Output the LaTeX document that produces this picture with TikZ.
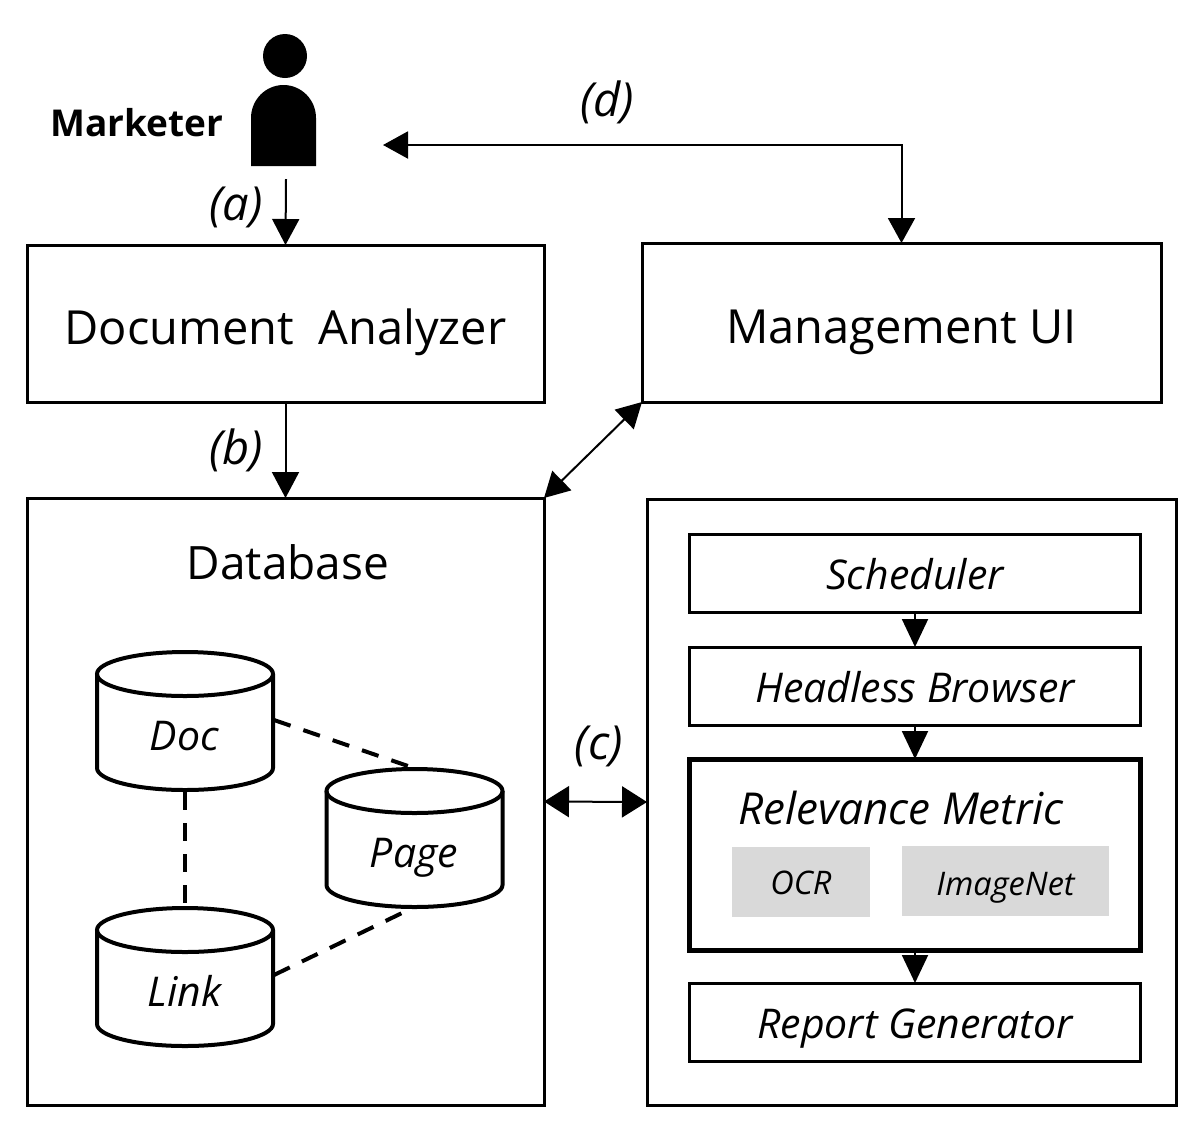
\documentclass[tikz,border=0pt]{standalone}
\usepackage{fontspec}
\setmainfont{Open Sans}
\usetikzlibrary{arrows.meta}

\begin{document}
\begin{tikzpicture}
[
    x = 1pt, y = -1pt,
    tip/.style = {-{Triangle[length=26pt,width=27pt]}, line width=2pt},
    steptip/.style = {-{Triangle[length=28pt,width=26pt]}, line width=2pt},
    bothtip/.style = {{Triangle[length=25pt,width=27pt]}-{Triangle[length=25pt,width=27pt]}, line width=2pt},
    widetip/.style = {{Triangle[length=25pt,width=31pt]}-{Triangle[length=25pt,width=31pt]}, line width=2pt},
    box/.style = {draw, line width=3pt, inner sep=0pt, outer sep=0pt, text height=41pt, text depth=0pt, font=\fontsize{47}{50}\selectfont},
    inbox/.style = {box, minimum width=451pt, minimum height=78pt, text height=33pt, font=\fontsize{41}{46}\selectfont\itshape},
    greybox/.style = {fill=black!15, inner sep=0pt, minimum height=70pt, text height=24pt, text depth=0pt, font=\fontsize{32.5}{36}\selectfont\itshape},
    store/.style = {draw, line width=4pt},
    storetext/.style = {font=\fontsize{41}{46}\selectfont\itshape, text height=30pt, text depth=0pt},
    tag/.style = {font=\fontsize{47}{52}\selectfont\itshape},
    link/.style = {line width=4pt, dash pattern=on 17.5pt off 13.5pt}
]
\useasboundingbox (0,0) rectangle (1193,1125);

% marketer
\node (head) [circle, fill, inner sep=0pt, minimum size=44pt] at (285,56) {};
\fill (251,166) -- (251,118) arc [start angle=180, end angle=0, x radius=32.5pt, y radius=33pt] -- (316,166) -- cycle;
\node (marketer) [font=\fontsize{37}{42}\selectfont\bfseries] at (137,123) {Marketer};
\coordinate (person) at (286,179);
\coordinate (persond) at (383,145);

% top row
\node (analyzer) [box, minimum width=517pt, minimum height=157pt] at (285.5,323.5) {Document\ \ Analyzer};
\node (mgmt) [box, minimum width=519pt, minimum height=159pt] at (901.5,322.5) {Management UI};

% database
\node (database) [box, minimum width=517pt, minimum height=607pt] at (285.5,801.5) {};
\node (dbtitle) [font=\fontsize{46}{50}\selectfont] at (288,562) {Database};
\foreach \cx/\top in {185/652, 414.5/769, 185/908} {
    \draw [store] (\cx,\top+22) ellipse [x radius=88pt, y radius=22pt];
    \draw [store] (\cx-88,\top+22) -- (\cx-88,\top+116)
        arc [start angle=180, end angle=360, x radius=88pt, y radius=22pt] -- (\cx+88,\top+22);
}
\node (doctext) [storetext] at (184.5,735) {Doc};
\node (pagetext) [storetext] at (414,852) {Page};
\node (linktext) [storetext] at (184.5,991) {Link};
\draw [link] (274,720) -- (408,766);
\draw [link] (185,792) -- (185,903);
\draw [link] (274,975) -- (402,913);

% pipeline
\node (pipeline) [box, minimum width=529pt, minimum height=606pt] at (911.5,802) {};
\node (scheduler) [inbox] at (915,573) {Scheduler};
\node (browser) [inbox] at (915,686) {Headless Browser};
\node (metric) [box, line width=5pt, minimum width=451pt, minimum height=191pt] at (915,854.5) {};
\node (metrictitle) [font=\fontsize{44}{50}\selectfont\itshape] at (901,808) {Relevance Metric};
\node (ocr) [greybox, minimum width=138pt] at (801,882) {OCR};
\node (imagenet) [greybox, minimum width=207pt, text height=30pt] at (1005.5,880.5) {ImageNet};
\node (report) [inbox] at (915,1022) {Report Generator};

% arrows
\draw [tip] (person) -- (analyzer.north);
\draw [tip] (analyzer.south) -- (database.north);
\draw [steptip] (scheduler.south) -- (browser.north);
\draw [steptip] (browser.south) -- (metric.north);
\draw [steptip] (metric.south) -- (report.north);
\draw [bothtip] (persond) -| (mgmt.north);
\draw [bothtip] (database.north east) -- (mgmt.south west);
\draw [widetip] (database.east) -- (pipeline.west);

\node (taga) [tag] at (236,207) {(a)};
\node (tagb) [tag] at (236,450) {(b)};
\node (tagc) [tag] at (599,746) {(c)};
\node (tagd) [tag] at (607,102) {(d)};
\end{tikzpicture}
\end{document}
